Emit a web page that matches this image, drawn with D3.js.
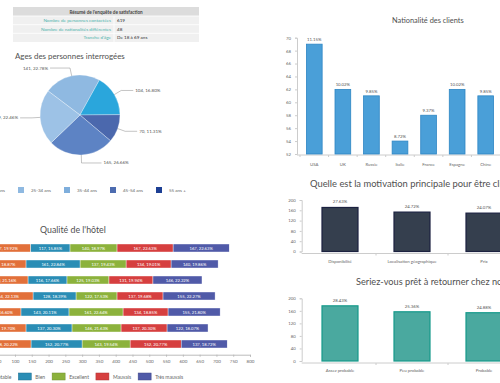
<!DOCTYPE html>
<html><head><meta charset="utf-8">
<script src="https://cdn.jsdelivr.net/npm/d3@7"></script>
<style>
html,body{margin:0;padding:0;background:#fff;overflow:hidden}
svg{display:block;font-family:Lato,"Open Sans",sans-serif}
</style></head>
<body>
<svg id="c" width="500" height="383"></svg>
<script>
// ---------- DATA ----------
const tableLabels = ["Nombre de personnes contactées", "Nombre de nationalités différentes", "Tranche d'âge"];
const tableValues = ["619", "48", "De 18 à 69 ans"];

const pieCounts = [141, 104, 70, 165, 139];
const pieColors = ["#8fb9e1", "#2aa6dc", "#4b68ad", "#5d83c4", "#9dc2e6"];
const ageGroups = ["18-24 ans", "25-34 ans", "35-44 ans", "45-54 ans", "55 ans +"];
const ageColors = ["#2aa6dc", "#8fb9e1", "#7eaedc", "#4d6cb0", "#1d3f94"];

const qualityRows = ["Accueil", "Chambre", "Propreté", "Restaurant", "Service", "Confort", "Rapport qualité/prix"];
const qualityLevels = ["Acceptable", "Bien", "Excellent", "Mauvais", "Très mauvais"];
const qualityColors = ["#e2703a", "#2a8db5", "#8cb23c", "#d63f3f", "#505aa8"];
const acceptable  = [147, 133, 139, 154, 118, 133, 148];
const bien        = [117, 161, 116, 128, 143, 137, 152];
const excellent   = [140, 137, 125, 122, 161, 146, 143];
const mauvais     = [167, 134, 131, 137, 134, 137, 152];
const tresMauvais = [167, 140, 146, 155, 155, 122, 137];
const qualityTicks = d3.range(0, 801, 50);

const countries = ["USA", "UK", "Russie", "Italie", "France", "Espagne", "Chine"];
const countryCounts = [69, 62, 61, 54, 58, 62, 61];
const countryTicks = d3.range(52, 71, 2);

const motivations = ["Disponibilité", "Localisation géographique", "Prix"];
const motivationCounts = [171, 153, 149];
const returnAnswers = ["Assez probable", "Peu probable", "Probable"];
const returnCounts = [176, 157, 154];
const countTicks = [0, 40, 80, 120, 160, 200];
const TOTAL = 619;

// ---------- DRAW ----------
const svg = d3.select("#c");
const pct = v => (v / TOTAL * 100).toFixed(2) + "%";
const titleColor = "#505050";

// Table
const tb = svg.append("g");
tb.append("rect").attr("x", 13).attr("y", 7).attr("width", 186).attr("height", 35).attr("fill", "#f0f0f0");
tb.append("rect").attr("x", 13).attr("y", 7).attr("width", 186).attr("height", 9).attr("fill", "#dcdcdc");
tb.append("text").attr("x", 106).attr("y", 13.5).attr("text-anchor", "middle")
  .attr("font-size", 4.6).attr("font-weight", "bold").attr("fill", "#444")
  .text("Résumé de l'enquête de satisfaction");
const rowY = d3.scaleBand().domain(tableLabels).range([16, 42]);
tableLabels.forEach((l, i) => {
  const y = rowY(l);
  tb.append("line").attr("x1", 13).attr("x2", 199).attr("y1", y).attr("y2", y).attr("stroke", "#fff").attr("stroke-width", 0.8);
  tb.append("text").attr("x", 111).attr("y", y + rowY.bandwidth() / 2 + 1.6).attr("text-anchor", "end")
    .attr("font-size", 4.6).attr("fill", "#4bb3ad").text(l);
  tb.append("text").attr("x", 117).attr("y", y + rowY.bandwidth() / 2 + 1.6)
    .attr("font-size", 4.6).attr("fill", "#333").text(tableValues[i]);
});
tb.append("line").attr("x1", 114).attr("x2", 114).attr("y1", 16).attr("y2", 42).attr("stroke", "#fff").attr("stroke-width", 0.8);

// Pie
svg.append("text").attr("x", 15).attr("y", 58.5).attr("font-size", 7.9).attr("fill", titleColor).text("Ages des personnes interrogées");
const cx = 80, cy = 115, R = 40;
const a0 = -53 * Math.PI / 180;
const pie = d3.pie().sort(null).startAngle(a0).endAngle(a0 + 2 * Math.PI);
const arcs = pie(pieCounts);
const arc = d3.arc().innerRadius(0).outerRadius(R);
const pg = svg.append("g").attr("transform", `translate(${cx},${cy})`);
pg.selectAll("path").data(arcs).join("path").attr("d", arc)
  .attr("fill", (d, i) => pieColors[i]).attr("stroke", "#fff").attr("stroke-width", 0.3);
arcs.forEach((d, i) => {
  const m = (d.startAngle + d.endAngle) / 2;
  const s = Math.sin(m), c = -Math.cos(m);
  const p1 = [s * R, c * R], p2 = [s * (R + 8), c * (R + 8)];
  const dir = s < -0.01 ? -1 : 1;
  const leg = Math.abs(c) > 0.9 ? 20 : 12;
  const p3 = [p2[0] + dir * leg, p2[1]];
  pg.append("polyline").attr("points", [p1, p2, p3].map(p => p.join(",")).join(" "))
    .attr("fill", "none").attr("stroke", "#888").attr("stroke-width", 0.5);
  pg.append("text").attr("x", p3[0] + dir * 2).attr("y", p3[1] + 1.5)
    .attr("text-anchor", dir < 0 ? "end" : "start").attr("font-size", 4.5).attr("fill", "#555")
    .text(pieCounts[i] + ", " + pct(pieCounts[i]));
});
// pie legend
ageGroups.forEach((g, i) => {
  const x = -28 + i * 46;
  svg.append("rect").attr("x", x).attr("y", 187).attr("width", 6).attr("height", 6).attr("fill", ageColors[i]);
  svg.append("text").attr("x", x + 13).attr("y", 192).attr("font-size", 4.5).attr("fill", "#666").text(g);
});

// Quality stacked bars
svg.append("text").attr("x", 40).attr("y", 233).attr("font-size", 8.8).attr("fill", titleColor).text("Qualité de l'hôtel");
const qdata = qualityRows.map((r, i) => ({
  row: r, "Acceptable": acceptable[i], "Bien": bien[i], "Excellent": excellent[i],
  "Mauvais": mauvais[i], "Très mauvais": tresMauvais[i]
}));
const stack = d3.stack().keys(qualityLevels)(qdata);
const qx = d3.scaleLinear().domain([0, 800]).range([-18.6, 250]);
const qy = d3.scaleBand().domain(qualityRows).range([240, 352]).paddingInner(0.5).paddingOuter(0.25);
const qg = svg.append("g");
stack.forEach((layer, k) => {
  layer.forEach(d => {
    const row = d.data.row;
    const tot = qualityLevels.reduce((s, l) => s + d.data[l], 0);
    const v = d[1] - d[0];
    qg.append("rect").attr("x", qx(d[0])).attr("y", qy(row)).attr("width", qx(d[1]) - qx(d[0]))
      .attr("height", qy.bandwidth()).attr("fill", qualityColors[k]).attr("stroke", "#fff").attr("stroke-width", 0.4);
    qg.append("text").attr("x", (qx(d[0]) + qx(d[1])) / 2).attr("y", qy(row) + qy.bandwidth() / 2 + 1.5)
      .attr("text-anchor", "middle").attr("font-size", 4.2).attr("fill", "#fff")
      .text(v + ", " + (v / tot * 100).toFixed(2) + "%");
  });
});
const qax = svg.append("g").attr("transform", "translate(0,354.7)")
  .call(d3.axisBottom(qx).tickValues(qualityTicks).tickSize(2).tickPadding(3));
qax.select(".domain").attr("stroke", "#bbb");
qax.selectAll(".tick line").attr("stroke", "#bbb");
qax.selectAll("text").attr("font-size", 4.5).attr("fill", "#666").attr("font-family", "Lato,sans-serif");
// quality legend
{
  let x = -30;
  qualityLevels.forEach((l, i) => {
    svg.append("rect").attr("x", x).attr("y", 373).attr("width", 13).attr("height", 7)
      .attr("fill", qualityColors[i]).attr("stroke", d3.color(qualityColors[i]).darker(0.6)).attr("stroke-width", 0.5);
    const t = svg.append("text").attr("x", x + 17).attr("y", 378.5).attr("font-size", 5).attr("fill", "#666").text(l);
    x += 17 + t.node().getComputedTextLength() + 7;
  });
}

// Helper for vertical bar charts
function yAxis(g, scale, ticks, x) {
  const ax = g.append("g").attr("transform", `translate(${x},0)`)
    .call(d3.axisLeft(scale).tickValues(ticks).tickSize(2).tickPadding(4));
  ax.select(".domain").attr("stroke", "#ccc");
  ax.selectAll(".tick line").attr("stroke", "#ccc");
  ax.selectAll("text").attr("font-size", 4.3).attr("fill", "#666").attr("font-family", "Lato,sans-serif");
}

// Nationality chart
svg.append("text").attr("x", 392).attr("y", 23).attr("font-size", 7.4).attr("fill", titleColor).text("Nationalité des clients");
const nx = d3.scaleBand().domain(countries).range([300, 500]).paddingInner(0.45).paddingOuter(0.225);
const ny = d3.scaleLinear().domain([52, 70]).range([154, 37.7]);
const ng = svg.append("g");
yAxis(ng, ny, countryTicks, 297);
ng.append("line").attr("x1", 297).attr("x2", 500).attr("y1", 155).attr("y2", 155).attr("stroke", "#ccc");
countries.forEach((c, i) => {
  const v = countryCounts[i];
  ng.append("rect").attr("x", nx(c)).attr("y", ny(v)).attr("width", nx.bandwidth()).attr("height", 154 - ny(v))
    .attr("fill", "#4a9fd8").attr("stroke", "#2d86c4").attr("stroke-width", 0.8);
  ng.append("text").attr("x", nx(c) + nx.bandwidth() / 2).attr("y", ny(v) - 3).attr("text-anchor", "middle")
    .attr("font-size", 4.3).attr("fill", "#555").text(pct(v));
  ng.append("text").attr("x", nx(c) + nx.bandwidth() / 2).attr("y", 166).attr("text-anchor", "middle")
    .attr("font-size", 4.3).attr("fill", "#666").text(c);
  ng.append("line").attr("x1", nx(c) - nx.step() * 0.225).attr("x2", nx(c) - nx.step() * 0.225)
    .attr("y1", 155).attr("y2", 157).attr("stroke", "#ccc");
});

// Category bar chart
function catChart(title, tx, ty, fs, cats, vals, y0, y1, fill, stroke) {
  svg.append("text").attr("x", tx).attr("y", ty).attr("font-size", fs).attr("fill", titleColor).text(title);
  const g = svg.append("g");
  const x = d3.scaleBand().domain(cats).range([304, 520]).paddingInner(0.5).paddingOuter(0.25);
  const y = d3.scaleLinear().domain([0, 200]).range([y0, y1]);
  yAxis(g, y, countTicks, 301.7);
  g.append("line").attr("x1", 301.7).attr("x2", 500).attr("y1", y0 + 2).attr("y2", y0 + 2).attr("stroke", "#ccc");
  cats.forEach((c, i) => {
    const v = vals[i];
    g.append("rect").attr("x", x(c)).attr("y", y(v)).attr("width", x.bandwidth()).attr("height", y0 - y(v))
      .attr("fill", fill).attr("stroke", stroke).attr("stroke-width", 1.2);
    g.append("text").attr("x", x(c) + x.bandwidth() / 2).attr("y", y(v) - 4).attr("text-anchor", "middle")
      .attr("font-size", 4.3).attr("fill", "#555").text(pct(v));
    g.append("text").attr("x", x(c) + x.bandwidth() / 2).attr("y", y0 + 11).attr("text-anchor", "middle")
      .attr("font-size", 4.3).attr("fill", "#666").text(c);
    const bx = x(c) + x.bandwidth() + x.step() * 0.25;
    g.append("line").attr("x1", bx).attr("x2", bx).attr("y1", y0 + 2).attr("y2", y0 + 4).attr("stroke", "#ccc");
  });
}
catChart("Quelle est la motivation principale pour être client de l'hôtel ?", 310, 187, 9.4,
  motivations, motivationCounts, 251.5, 200, "#353f4e", "#1b2140");
catChart("Seriez-vous prêt à retourner chez nous ?", 356, 285, 9.2,
  returnAnswers, returnCounts, 361, 298.3, "#4aa99f", "#169a8b");
</script>
</body></html>
